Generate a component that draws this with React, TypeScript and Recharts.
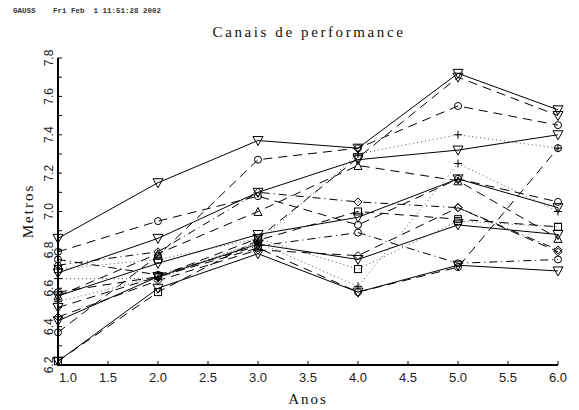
import React from "react";
import { LineChart, Line, XAxis, YAxis } from "recharts";

const years = [1, 2, 3, 4, 5, 6];
const xTicks = [1, 1.5, 2, 2.5, 3, 3.5, 4, 4.5, 5, 5.5, 6];
const yTicks = [6.2, 6.3, 6.4, 6.5, 6.6, 6.7, 6.8, 6.9, 7.0, 7.1, 7.2, 7.3, 7.4, 7.5, 7.6, 7.7, 7.8];

const s1 = [6.86, 7.15, 7.37, 7.33, 7.72, 7.53];
const s2 = [6.68, 6.86, 7.10, 7.27, 7.32, 7.40];
const s3 = [6.56, 6.73, 6.88, 6.97, 7.17, 7.02];
const s4 = [6.43, 6.66, 6.83, 6.75, 6.93, 6.88];
const s5 = [6.22, 6.60, 6.78, 6.58, 6.72, 6.69];
const s6 = [6.37, 6.77, 7.27, 7.33, 7.55, 7.45];
const s7 = [6.50, 6.66, 6.86, 7.28, 7.70, 7.50];
const s8 = [6.79, 6.95, 7.08, 6.93, 7.17, 7.05];
const s9 = [6.72, 6.79, 7.10, 7.05, 7.02, 6.80];
const s10 = [6.56, 6.78, 7.00, 7.24, 7.16, 6.86];
const s11 = [6.65, 6.65, 6.84, 7.30, 7.40, 7.33];
const s12 = [6.53, 6.66, 6.84, 6.61, 7.25, 7.00];
const s13 = [6.22, 6.58, 6.85, 7.00, 6.96, 6.92];
const s14 = [6.75, 6.67, 6.82, 6.89, 6.73, 6.75];
const s15 = [6.45, 6.64, 6.80, 6.77, 7.02, 6.79];
const s16 = [6.58, 6.66, 6.81, 6.58, 6.71, 7.33];
const s17 = [6.70, 6.75, 6.86, 6.70, 6.95, 6.92];

const SOLID = "";
const DASH = "9 6";
const DOT = "1 3";
const DASHDOT = "8 4 1 4";

const seriesList = [
  { key: "s1", values: s1, dash: SOLID, marker: "tdown", color: "#000" },
  { key: "s2", values: s2, dash: SOLID, marker: "tdown", color: "#000" },
  { key: "s3", values: s3, dash: SOLID, marker: "tdown", color: "#000" },
  { key: "s4", values: s4, dash: SOLID, marker: "tdown", color: "#000" },
  { key: "s5", values: s5, dash: SOLID, marker: "tdown", color: "#000" },
  { key: "s6", values: s6, dash: DASH, marker: "circle", color: "#000" },
  { key: "s7", values: s7, dash: DASH, marker: "tdown", color: "#000" },
  { key: "s8", values: s8, dash: DASH, marker: "circle", color: "#000" },
  { key: "s9", values: s9, dash: DASHDOT, marker: "diamond", color: "#000" },
  { key: "s10", values: s10, dash: DASH, marker: "tup", color: "#000" },
  { key: "s11", values: s11, dash: DOT, marker: "plus", color: "#555" },
  { key: "s12", values: s12, dash: DOT, marker: "plus", color: "#555" },
  { key: "s13", values: s13, dash: DASH, marker: "square", color: "#000" },
  { key: "s14", values: s14, dash: DASHDOT, marker: "circle", color: "#000" },
  { key: "s15", values: s15, dash: DASH, marker: "diamond", color: "#000" },
  { key: "s16", values: s16, dash: DASH, marker: "circle", color: "#000" },
  { key: "s17", values: s17, dash: DOT, marker: "square", color: "#555" },
];

const data = years.map((x, i) => {
  const row: any = { x };
  seriesList.forEach((s) => {
    row[s.key] = s.values[i];
  });
  return row;
});

const makeDot = (shape: string) => (props: any) => {
  const { cx, cy, index } = props;
  if (cx == null || cy == null) return <g key={index} />;
  const st = { fill: "none", stroke: "#000", strokeWidth: 1 };
  if (shape === "tdown") {
    return <path key={index} d={`M${cx - 5},${cy - 4} L${cx + 5},${cy - 4} L${cx},${cy + 5} Z`} {...st} />;
  }
  if (shape === "tup") {
    return <path key={index} d={`M${cx - 4},${cy + 4} L${cx + 4},${cy + 4} L${cx},${cy - 4} Z`} {...st} />;
  }
  if (shape === "circle") {
    return <circle key={index} cx={cx} cy={cy} r={3.5} {...st} />;
  }
  if (shape === "diamond") {
    return <path key={index} d={`M${cx},${cy - 4} L${cx + 4},${cy} L${cx},${cy + 4} L${cx - 4},${cy} Z`} {...st} />;
  }
  if (shape === "square") {
    return <rect key={index} x={cx - 3.5} y={cy - 3.5} width={7} height={7} {...st} />;
  }
  return <path key={index} d={`M${cx - 4},${cy} L${cx + 4},${cy} M${cx},${cy - 4} L${cx},${cy + 4}`} {...st} />;
};

const tickFont = "'Liberation Sans', Arial, sans-serif";
const titleFont = "'Liberation Serif', 'DejaVu Serif', serif";

const BottomTick = (props: any) => {
  const { x, y, payload } = props;
  const v = payload.value;
  const lx = v === 1 ? x + 10 : x;
  return (
    <g>
      <line x1={x} y1={y} x2={x} y2={y - 4} stroke="#000" strokeWidth={1} />
      <text x={lx} y={y + 17} textAnchor="middle" fontFamily={tickFont} fontSize={13} fill="#222">
        {v.toFixed(1)}
      </text>
    </g>
  );
};

const TopTick = (props: any) => {
  const { x, y } = props;
  return <line x1={x} y1={y} x2={x} y2={y + 5} stroke="#000" strokeWidth={1} />;
};

const LeftTick = (props: any) => {
  const { x, y, payload } = props;
  const v = payload.value;
  const major = Math.round(v * 10) % 2 === 0;
  return (
    <g>
      <line x1={x} y1={y} x2={x + 4} y2={y} stroke="#000" strokeWidth={1} />
      {major ? (
        <text
          x={x - 5}
          y={y}
          transform={`rotate(-90, ${x - 5}, ${y})`}
          textAnchor="middle"
          fontFamily={tickFont}
          fontSize={12}
          fill="#222"
        >
          {v.toFixed(1)}
        </text>
      ) : null}
    </g>
  );
};

const RightTick = (props: any) => {
  const { x, y } = props;
  return <line x1={x} y1={y} x2={x - 4} y2={y} stroke="#000" strokeWidth={1} />;
};

export default function App() {
  return (
    <div style={{ position: "absolute", left: 0, top: 0, width: 579, height: 410, background: "#fff" }}>
      <svg width={579} height={410} style={{ position: "absolute", left: 0, top: 0 }}>
        <text x={13} y={13} fontFamily="'Liberation Mono', monospace" fontSize={7.5} fontWeight="bold" fill="#333">
          GAUSS
        </text>
        <text x={53} y={13} fontFamily="'Liberation Mono', monospace" fontSize={7.5} fontWeight="bold" fill="#333" style={{ whiteSpace: "pre" }}>
          {"Fri Feb  1 11:51:28 2002"}
        </text>
        <text x={309} y={37} textAnchor="middle" fontFamily={titleFont} fontSize={15} letterSpacing={2.6} fill="#111">
          Canais de performance
        </text>
        <text x={308} y={404} textAnchor="middle" fontFamily={titleFont} fontSize={15} letterSpacing={2} fill="#111">
          Anos
        </text>
        <text
          x={33}
          y={211}
          transform="rotate(-90, 33, 211)"
          textAnchor="middle"
          fontFamily={titleFont}
          fontSize={15}
          letterSpacing={2}
          fill="#111"
        >
          Metros
        </text>
      </svg>
      <div style={{ position: "absolute", left: 0, top: 0 }}>
        <LineChart width={579} height={410} data={data} margin={{ top: 58, right: 21, bottom: 0, left: 0 }}>
          <XAxis
            xAxisId="b"
            dataKey="x"
            type="number"
            domain={[1, 6]}
            ticks={xTicks}
            orientation="bottom"
            height={45}
            tickLine={false}
            tickSize={0}
            tickMargin={0}
            axisLine={{ stroke: "#000", strokeWidth: 2 }}
            tick={<BottomTick />}
            interval={0}
          />
          <XAxis
            xAxisId="t"
            dataKey="x"
            type="number"
            domain={[1, 6]}
            ticks={xTicks}
            orientation="top"
            height={0}
            tickLine={false}
            tickSize={0}
            tickMargin={0}
            axisLine={{ stroke: "#000", strokeWidth: 1.5 }}
            tick={<TopTick />}
            interval={0}
          />
          <YAxis
            yAxisId="l"
            type="number"
            domain={[6.2, 7.8]}
            ticks={yTicks}
            width={58}
            tickLine={false}
            tickSize={0}
            tickMargin={0}
            axisLine={{ stroke: "#000", strokeWidth: 2 }}
            tick={<LeftTick />}
            interval={0}
          />
          <YAxis
            yAxisId="r"
            orientation="right"
            type="number"
            domain={[6.2, 7.8]}
            ticks={yTicks}
            width={0}
            tickLine={false}
            tickSize={0}
            tickMargin={0}
            axisLine={{ stroke: "#000", strokeWidth: 1.5 }}
            tick={<RightTick />}
            interval={0}
          />
          {seriesList.map((s) => (
            <Line
              key={s.key}
              xAxisId="b"
              yAxisId="l"
              dataKey={s.key}
              type="linear"
              stroke={s.color}
              strokeWidth={1}
              strokeDasharray={s.dash || undefined}
              dot={makeDot(s.marker)}
              activeDot={false}
              isAnimationActive={false}
            />
          ))}
        </LineChart>
      </div>
    </div>
  );
}
